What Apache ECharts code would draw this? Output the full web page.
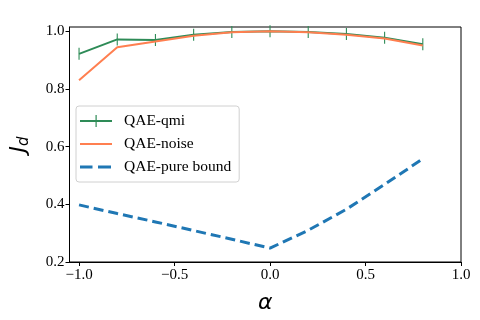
<!DOCTYPE html>
<html><head><meta charset="utf-8">
<script src="https://cdn.jsdelivr.net/npm/echarts@6/dist/echarts.min.js"></script>
<style>html,body{margin:0;padding:0;background:#fff}#c{width:480px;height:320px}</style>
</head><body><div id="c"></div>
<script>
const alphas = [-1.0, -0.8, -0.6, -0.4, -0.2, 0.0, 0.2, 0.4, 0.6, 0.8];
const qmi = [0.922, 0.972, 0.970, 0.988, 0.998, 1.0, 0.998, 0.991, 0.978, 0.955];
const noise = [0.830, 0.945, 0.965, 0.985, 0.997, 1.0, 0.997, 0.988, 0.975, 0.951];
const pureBound = [0.398, 0.368, 0.339, 0.309, 0.279, 0.248, 0.310, 0.383, 0.469, 0.558];
const xTicks = [-1.0, -0.5, 0.0, 0.5, 1.0];
const yTicks = [0.2, 0.4, 0.6, 0.8, 1.0];
const seriesNames = ['QAE-qmi', 'QAE-noise', 'QAE-pure bound'];

const pair = arr => alphas.map((a, i) => [a, arr[i]]);
const fmt = v => (v < 0 ? '\u2212' + Math.abs(v).toFixed(1) : v.toFixed(1));
const serif = 'Liberation Serif, Times New Roman, serif';
// legend icons in a 32x14 box (tiny corner dots fix the bounding box)
const corners = 'M0,0h0.01v0.01h-0.01Z M31.99,13.99h0.01v0.01h-0.01Z ';
const iconQmi = 'path://' + corners + 'M0,6H32V8H0Z M15.5,1H16.7V13H15.5Z';
const iconNoise = 'path://' + corners + 'M0,6H32V8H0Z';
const iconBound = 'path://' + corners + 'M0,5.5H12.5V8.5H0Z M18,5.5H31V8.5H18Z';

const chart = echarts.init(document.getElementById('c'), null, {renderer: 'canvas'});
chart.setOption({
  animation: false,
  grid: {left: 67, right: 19, top: 27, bottom: 58, show: true, borderColor: '#000', borderWidth: 1},
  legend: {
    orient: 'vertical', left: 76, top: 106,
    data: [
      {name: seriesNames[0], icon: iconQmi},
      {name: seriesNames[1], icon: iconNoise},
      {name: seriesNames[2], icon: iconBound}
    ],
    itemWidth: 32, itemHeight: 14, itemGap: 7,
    padding: [7, 8, 7, 4],
    borderColor: '#d0d0d0', borderWidth: 1, borderRadius: 3,
    textStyle: {fontFamily: serif, fontSize: 15.5, color: '#000', padding: [0, 0, 0, 7]}
  },
  xAxis: {
    type: 'value', min: -1.05, max: 1.0,
    name: 'α', nameLocation: 'middle', nameGap: 30,
    nameTextStyle: {fontFamily: 'DejaVu Sans', fontStyle: 'italic', fontSize: 22, color: '#000'},
    axisLine: {show: true, onZero: false, lineStyle: {color: '#000', width: 1}},
    axisTick: {show: true, customValues: xTicks, length: 4, lineStyle: {color: '#000'}},
    axisLabel: {customValues: xTicks, formatter: fmt, fontFamily: serif, fontSize: 15, color: '#000', margin: 6},
    splitLine: {show: false}
  },
  yAxis: {
    type: 'value', min: 0.2, max: 1.015,
    name: '{j|J}{d|d}', nameLocation: 'middle', nameGap: 38, nameRotate: 90,
    nameTextStyle: {
      rich: {
        j: {fontFamily: 'DejaVu Sans', fontStyle: 'italic', fontSize: 22, color: '#000'},
        d: {fontFamily: 'DejaVu Sans', fontStyle: 'italic', fontSize: 15, color: '#000', padding: [10, 0, 0, 0]}
      }
    },
    axisLine: {show: true, onZero: false, lineStyle: {color: '#000', width: 1}},
    axisTick: {show: true, customValues: yTicks, length: 4, lineStyle: {color: '#000'}},
    axisLabel: {customValues: yTicks, formatter: v => v.toFixed(1), fontFamily: serif, fontSize: 15, color: '#000', margin: 5},
    splitLine: {show: false}
  },
  series: [
    {
      name: seriesNames[0], type: 'line', data: pair(qmi),
      color: '#2e8b57',
      lineStyle: {width: 2, color: '#2e8b57'},
      symbol: 'rect', symbolSize: [1.1, 12], showAllSymbol: true,
      itemStyle: {color: '#2e8b57'}, z: 2
    },
    {
      name: seriesNames[1], type: 'line', data: pair(noise),
      color: '#ff7f50',
      lineStyle: {width: 2, color: '#ff7f50'},
      symbol: 'none', z: 3
    },
    {
      name: seriesNames[2], type: 'line', data: pair(pureBound),
      color: '#1f77b4',
      lineStyle: {width: 3, color: '#1f77b4', type: [10, 5]},
      symbol: 'none', z: 4
    }
  ]
});
</script></body></html>
